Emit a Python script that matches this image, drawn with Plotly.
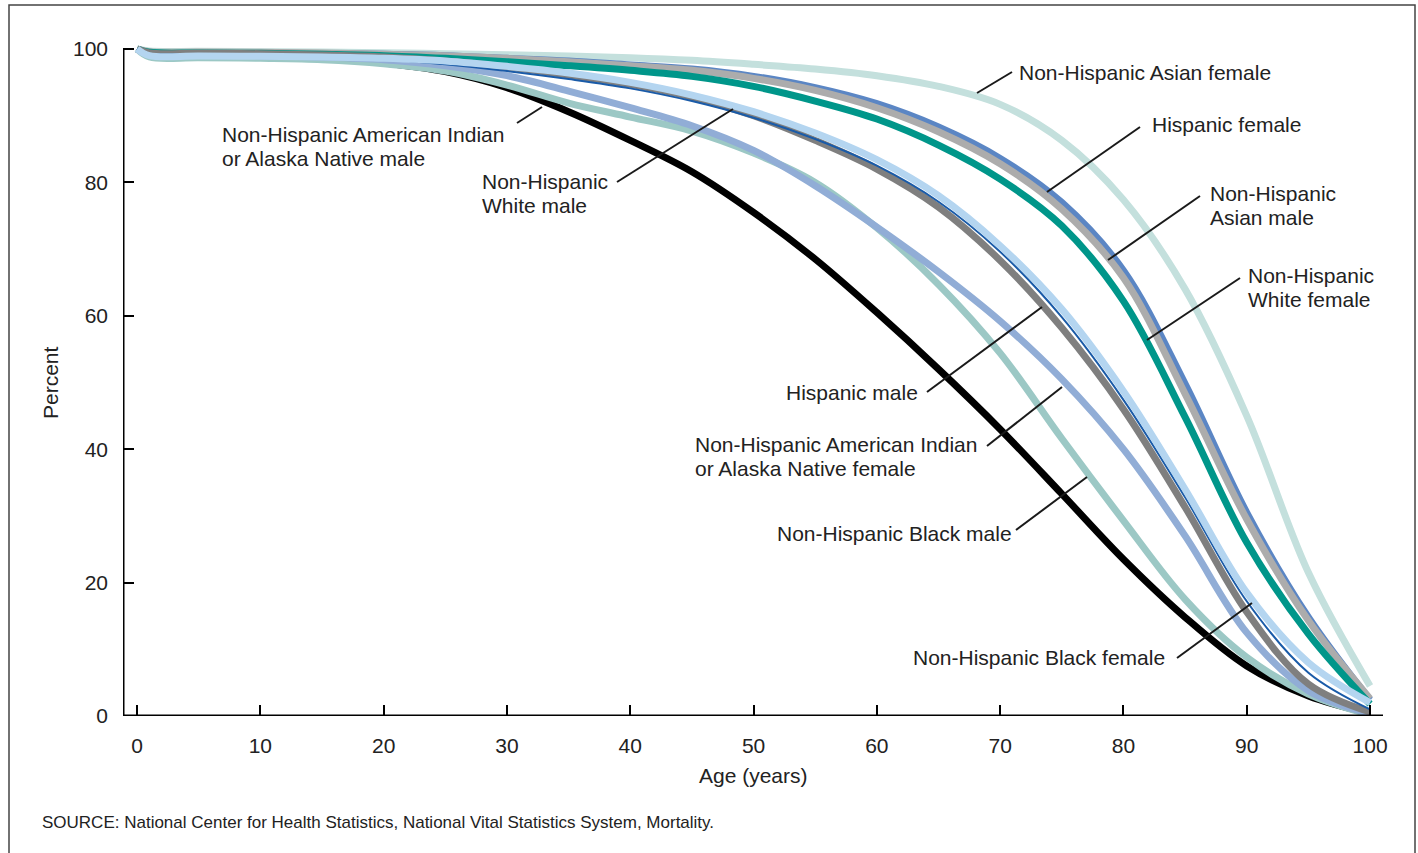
import plotly.graph_objects as go

ages = [0, 1, 5, 10, 15, 20, 25, 30, 35, 40, 45, 50, 55, 60, 65, 70, 75, 80, 85, 90, 95, 100]

asian_female = [100, 99.7, 99.65, 99.6, 99.55, 99.45, 99.3, 99.15, 98.95, 98.7, 98.3, 97.7, 97.0, 96.0, 94.4, 91.7, 86.3, 77.4, 64.0, 45.0, 21.5, 4.5]
hispanic_female = [100, 99.5, 99.45, 99.4, 99.3, 99.2, 99.0, 98.6, 98.2, 97.6, 97.0, 95.9, 94.2, 91.8, 88.3, 83.6, 77.0, 66.8, 49.8, 30.5, 14.8, 2.4]
asian_male = [100, 99.6, 99.55, 99.5, 99.4, 99.2, 99.0, 98.6, 98.1, 97.5, 96.8, 95.6, 93.8, 91.2, 87.6, 82.8, 76.0, 65.7, 48.3, 29.5, 14.3, 2.6]
white_female = [100, 99.5, 99.4, 99.35, 99.2, 99.0, 98.6, 98.1, 97.5, 96.8, 95.9, 94.4, 92.2, 89.5, 85.6, 80.5, 73.5, 62.2, 44.8, 26.0, 12.3, 1.8]
aian_male = [100, 99.1, 99.0, 98.9, 98.6, 97.9, 96.6, 94.2, 90.6, 86.3, 81.6, 75.5, 68.5, 60.5, 52.0, 43.0, 33.3, 23.5, 14.8, 7.5, 3.0, 0.4]
black_male = [100, 98.8, 98.7, 98.6, 98.4, 97.8, 96.7, 94.6, 91.9, 89.8, 87.7, 84.4, 80.0, 73.2, 64.7, 54.4, 41.6, 29.3, 17.5, 8.8, 3.3, 0.2]
aian_female = [100, 99.2, 99.1, 99.0, 98.8, 98.4, 97.5, 96.0, 93.7, 91.2, 88.5, 84.8, 79.5, 73.3, 66.6, 59.2, 50.5, 40.0, 27.0, 12.5, 3.8, 0.4]
hispanic_male = [100, 99.4, 99.35, 99.3, 99.1, 98.8, 98.2, 97.3, 96.1, 94.7, 92.8, 90.0, 86.3, 82.0, 76.3, 68.3, 58.2, 46.0, 31.3, 15.6, 4.8, 0.6]
white_male = [100, 99.3, 99.25, 99.2, 99.0, 98.5, 97.7, 96.7, 95.5, 94.1, 92.2, 89.7, 86.5, 82.5, 77.1, 69.6, 59.8, 47.4, 32.8, 17.2, 6.5, 1.0]
black_female = [100, 99.0, 98.95, 98.9, 98.8, 98.6, 98.2, 97.4, 96.4, 95.0, 93.1, 90.6, 87.4, 83.4, 78.0, 70.5, 61.0, 48.7, 34.0, 18.5, 8.0, 2.0]

x_ticks = [0, 10, 20, 30, 40, 50, 60, 70, 80, 90, 100]
y_ticks = [0, 20, 40, 60, 80, 100]

series = [
    ("Non-Hispanic Asian female", asian_female, "#c4e0dd", 7),
    ("Hispanic female", hispanic_female, "#5b86c4", 7),
    ("Non-Hispanic Asian male", asian_male, "#acacac", 7),
    ("Non-Hispanic White female", white_female, "#00968a", 7),
    ("Non-Hispanic American Indian or Alaska Native male", aian_male, "#000000", 7),
    ("Non-Hispanic Black male", black_male, "#9cc8c5", 7),
    ("Non-Hispanic American Indian or Alaska Native female", aian_female, "#91add6", 7),
    ("Hispanic male", hispanic_male, "#7f7f7f", 7),
    ("Non-Hispanic White male", white_male, "#1a5ba8", 2),
    ("Non-Hispanic Black female", black_female, "#b4d5f0", 7),
]

FONT = "Arial, Liberation Sans, sans-serif"
TXT = "#222222"
FS = 21

fig = go.Figure()
for name, vals, color, w in series:
    fig.add_trace(go.Scatter(x=ages, y=vals, mode="lines", name=name,
                             line=dict(color=color, width=w, shape="spline", smoothing=1.0),
                             showlegend=False, hoverinfo="skip"))

W, H = 1418, 853
L, R, T, B = 123, 1383, 39, 716
X0, X1 = -1.14, 101.05
Y0, Y1 = 0, 101.5


def dx(px):
    return X0 + (px - L) / (R - L) * (X1 - X0)


def dy(py):
    return Y0 + (B - py) / (B - T) * (Y1 - Y0)


def xp(px):
    return (px - L) / (R - L)


def yp(py):
    return (B - py) / (B - T)


shapes = []
shapes.append(dict(type="line", xref="x", yref="y", x0=X0, x1=X0, y0=0, y1=100,
                   line=dict(color="#000", width=3)))
shapes.append(dict(type="line", xref="x", yref="y", x0=X0, x1=X1, y0=0, y1=0,
                   line=dict(color="#000", width=3)))
shapes.append(dict(type="rect", xref="paper", yref="paper", x0=xp(9), x1=xp(1415),
                   y0=yp(860), y1=yp(5), line=dict(color="#444", width=1.5)))

pointers = [
    (977, 93, 1012, 72),
    (1047, 192, 1140, 127),
    (1108, 260, 1200, 196),
    (1147, 340, 1240, 278),
    (517, 123, 542, 107),
    (617, 182, 733, 109),
    (927, 392, 1042, 307),
    (987, 446, 1062, 387),
    (1016, 530, 1087, 477),
    (1177, 658, 1252, 603),
]
for a, b, c, d in pointers:
    shapes.append(dict(type="line", xref="x", yref="y", x0=dx(a), y0=dy(b), x1=dx(c), y1=dy(d),
                       line=dict(color="#1a1a1a", width=2)))

labels = [
    ("Non-Hispanic Asian female", 1017, 72, "left"),
    ("Hispanic female", 1150, 124, "left"),
    ("Non-Hispanic", 1208, 193, "left"),
    ("Asian male", 1208, 217, "left"),
    ("Non-Hispanic", 1246, 275, "left"),
    ("White female", 1246, 299, "left"),
    ("Non-Hispanic American Indian", 220, 134, "left"),
    ("or Alaska Native male", 220, 158, "left"),
    ("Non-Hispanic", 480, 181, "left"),
    ("White male", 480, 205, "left"),
    ("Hispanic male", 920, 392, "right"),
    ("Non-Hispanic American Indian", 693, 444, "left"),
    ("or Alaska Native female", 693, 468, "left"),
    ("Non-Hispanic Black male", 1014, 533, "right"),
    ("Non-Hispanic Black female", 1167, 657, "right"),
]
annotations = []
for text, px, py, anc in labels:
    annotations.append(dict(text=text, x=dx(px), y=dy(py), xref="x", yref="y",
                            xanchor=anc, yanchor="middle", align=anc, showarrow=False,
                            font=dict(family=FONT, size=FS, color=TXT)))

annotations.append(dict(text="Percent", x=xp(50), y=yp(383), xref="paper", yref="paper",
                        textangle=-90, showarrow=False, xanchor="center", yanchor="middle",
                        font=dict(family=FONT, size=FS, color=TXT)))
annotations.append(dict(text="Age (years)", x=xp(753), y=yp(775), xref="paper", yref="paper",
                        showarrow=False, xanchor="center", yanchor="middle",
                        font=dict(family=FONT, size=FS, color=TXT)))
annotations.append(dict(text="SOURCE: National Center for Health Statistics, National Vital Statistics System, Mortality.",
                        x=xp(40), y=yp(822), xref="paper", yref="paper",
                        showarrow=False, xanchor="left", yanchor="middle",
                        font=dict(family=FONT, size=17, color=TXT)))

fig.update_layout(
    width=W, height=H,
    margin=dict(l=L, r=W - R, t=T, b=H - B, pad=0),
    paper_bgcolor="white", plot_bgcolor="white",
    shapes=shapes, annotations=annotations,
    font=dict(family=FONT, color=TXT),
)
fig.update_xaxes(range=[X0, X1], tickvals=x_ticks, ticks="inside", ticklen=11, tickwidth=2,
                 tickcolor="#000", showgrid=False, zeroline=False, showline=False,
                 ticklabelstandoff=15, tickfont=dict(family=FONT, size=FS, color=TXT))
fig.update_yaxes(range=[Y0, Y1], tickvals=y_ticks, ticks="inside", ticklen=11, tickwidth=2,
                 tickcolor="#000", showgrid=False, zeroline=False, showline=False,
                 ticklabelstandoff=14, tickfont=dict(family=FONT, size=FS, color=TXT))

fig.write_html("out.html", config={"displayModeBar": False},
               post_script="document.body.style.margin='0';document.body.style.overflow='hidden';")
